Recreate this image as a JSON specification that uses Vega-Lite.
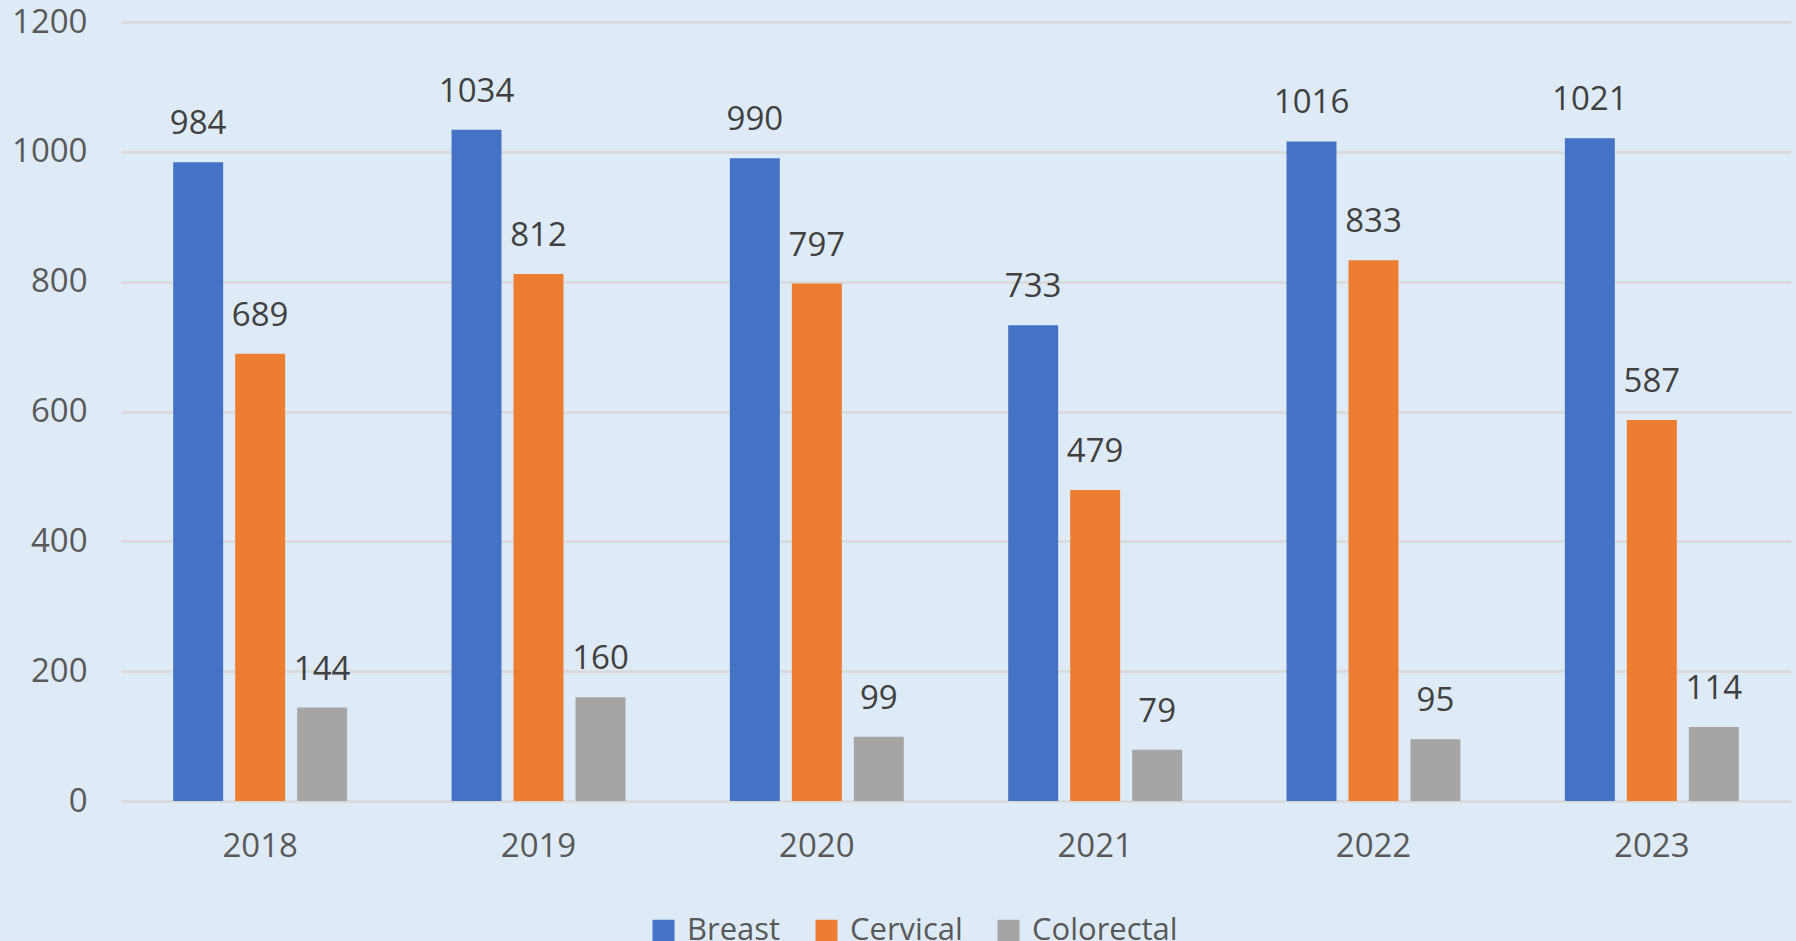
{
  "$schema": "https://vega.github.io/schema/vega-lite/v6.json",
  "width": 1670,
  "height": 779,
  "autosize": {"type": "none"},
  "padding": {"left": 121, "top": 22, "right": 5, "bottom": 140},
  "background": "#DEEBF7",
  "data": {
    "values": [
      {"year": "2018", "type": "Breast", "value": 984},
      {"year": "2018", "type": "Cervical", "value": 689},
      {"year": "2018", "type": "Colorectal", "value": 144},
      {"year": "2019", "type": "Breast", "value": 1034},
      {"year": "2019", "type": "Cervical", "value": 812},
      {"year": "2019", "type": "Colorectal", "value": 160},
      {"year": "2020", "type": "Breast", "value": 990},
      {"year": "2020", "type": "Cervical", "value": 797},
      {"year": "2020", "type": "Colorectal", "value": 99},
      {"year": "2021", "type": "Breast", "value": 733},
      {"year": "2021", "type": "Cervical", "value": 479},
      {"year": "2021", "type": "Colorectal", "value": 79},
      {"year": "2022", "type": "Breast", "value": 1016},
      {"year": "2022", "type": "Cervical", "value": 833},
      {"year": "2022", "type": "Colorectal", "value": 95},
      {"year": "2023", "type": "Breast", "value": 1021},
      {"year": "2023", "type": "Cervical", "value": 587},
      {"year": "2023", "type": "Colorectal", "value": 114}
    ]
  },
  "encoding": {
    "x": {
      "field": "year",
      "type": "nominal",
      "scale": {"paddingInner": 0.375, "paddingOuter": 0.1875},
      "axis": {
        "title": null,
        "labelAngle": 0,
        "domain": false,
        "ticks": false,
        "labelPadding": 29,
        "labelFont": "Open Sans",
        "labelFontSize": 33,
        "labelColor": "#595959"
      }
    },
    "xOffset": {
      "field": "type",
      "type": "nominal",
      "sort": ["Breast", "Cervical", "Colorectal"],
      "scale": {"paddingInner": 0.194, "paddingOuter": 0}
    },
    "y": {
      "field": "value",
      "type": "quantitative",
      "scale": {"domain": [0, 1200], "nice": false},
      "axis": {
        "title": null,
        "values": [0, 200, 400, 600, 800, 1000, 1200],
        "format": "d",
        "domain": false,
        "ticks": false,
        "grid": true,
        "gridColor": "#D9D9D9",
        "gridWidth": 2.5,
        "labelPadding": 34,
        "labelFont": "Open Sans",
        "labelFontSize": 33,
        "labelColor": "#595959"
      }
    }
  },
  "layer": [
    {
      "mark": {"type": "bar"},
      "encoding": {
        "color": {
          "field": "type",
          "type": "nominal",
          "scale": {
            "domain": ["Breast", "Cervical", "Colorectal"],
            "range": ["#4472C4", "#ED7D31", "#A5A5A5"]
          },
          "legend": {
            "title": null,
            "orient": "none",
            "direction": "horizontal",
            "legendX": 527,
            "legendY": 893,
            "symbolType": "square",
            "symbolSize": 484,
            "symbolStrokeWidth": 0,
            "labelOffset": 8,
            "columnPadding": 30,
            "labelFont": "Open Sans",
            "labelFontSize": 31,
            "labelColor": "#595959"
          }
        }
      }
    },
    {
      "mark": {
        "type": "text",
        "baseline": "alphabetic",
        "dy": -28,
        "font": "Open Sans",
        "fontSize": 33,
        "color": "#404040"
      },
      "encoding": {
        "text": {"field": "value", "type": "quantitative", "format": "d"}
      }
    }
  ],
  "config": {"view": {"stroke": null}}
}
